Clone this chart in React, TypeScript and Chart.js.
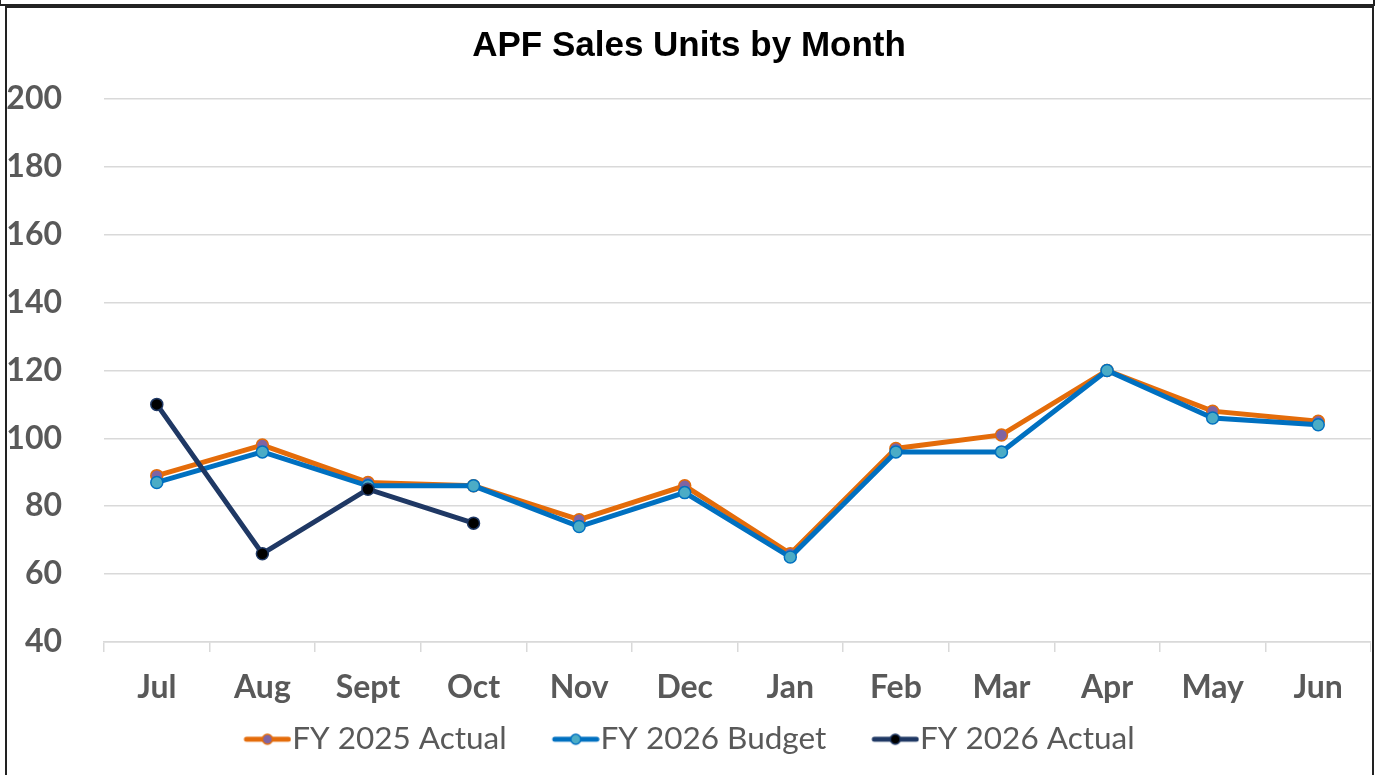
import React, { useEffect, useRef } from "react";
import { Chart, registerables } from "chart.js";

Chart.register(...registerables);

const months = ["Jul", "Aug", "Sept", "Oct", "Nov", "Dec", "Jan", "Feb", "Mar", "Apr", "May", "Jun"];
const fy2025Actual = [89, 98, 87, 86, 76, 86, 66, 97, 101, 120, 108, 105];
const fy2026Budget = [87, 96, 86, 86, 74, 84, 65, 96, 96, 120, 106, 104];
const fy2026Actual = [110, 66, 85, 75, null, null, null, null, null, null, null, null];
const seriesNames = ["FY 2025 Actual", "FY 2026 Budget", "FY 2026 Actual"];
const yMin = 40;
const yMax = 200;
const yStep = 20;

const lineColors = ["#E46C0A", "#0070C0", "#1F3864"];
const pointFills = ["#8064A2", "#4BACC6", "#000000"];
const pointBorders = ["#E46C0A", "#0070C0", "#1F3864"];

const BOX_W = 78;
const SAMPLE_PAD = BOX_W - 18;

function makeSample(line: string, fill: string, border: string) {
  const c = document.createElement("canvas");
  c.width = SAMPLE_PAD + 48;
  c.height = 14;
  const ctx = c.getContext("2d")!;
  ctx.strokeStyle = line;
  ctx.lineWidth = 5;
  ctx.lineCap = "round";
  ctx.beginPath();
  ctx.moveTo(SAMPLE_PAD + 3, 7);
  ctx.lineTo(SAMPLE_PAD + 45, 7);
  ctx.stroke();
  ctx.beginPath();
  ctx.arc(SAMPLE_PAD + 24, 7, 5, 0, Math.PI * 2);
  ctx.fillStyle = fill;
  ctx.fill();
  ctx.lineWidth = 1.5;
  ctx.strokeStyle = border;
  ctx.stroke();
  return c;
}

const legendShift = {
  id: "legendShift",
  afterLayout(chart: any) {
    const l = chart.legend;
    if (l) {
      const dx = -(BOX_W - 33) / 2;
      l.left += dx;
      l.right += dx;
    }
  },
};

export default function App() {
  const ref = useRef<HTMLCanvasElement | null>(null);
  useEffect(() => {
    document.body.style.margin = "0";
    const samples = [0, 1, 2].map((i) => makeSample(lineColors[i], pointFills[i], pointBorders[i]));
    const mk = (i: number, data: (number | null)[], order: number) => ({
      label: seriesNames[i],
      data,
      borderColor: lineColors[i],
      backgroundColor: pointFills[i],
      pointBackgroundColor: pointFills[i],
      pointBorderColor: pointBorders[i],
      pointBorderWidth: 1.5,
      pointRadius: 6,
      borderWidth: 5,
      tension: 0,
      order,
      spanGaps: false,
    });
    const chart = new Chart(ref.current!, {
      type: "line",
      data: {
        labels: months,
        datasets: [mk(0, fy2025Actual, 2), mk(1, fy2026Budget, 1), mk(2, fy2026Actual, 0)],
      },
      plugins: [legendShift],
      options: {
        animation: false,
        responsive: false,
        maintainAspectRatio: false,
        layout: { autoPadding: false, padding: { left: 0, right: 0, top: 0, bottom: 10 } },
        plugins: {
          title: {
            display: true,
            text: "APF Sales Units by Month",
            color: "#000000",
            font: { family: "'Liberation Sans', Arial, sans-serif", size: 35, weight: "bold" },
            padding: { top: 18, bottom: 32 },
          },
          legend: {
            display: true,
            position: "bottom",
            labels: {
              usePointStyle: true,
              pointStyleWidth: BOX_W,
              padding: 0,
              color: "#595959",
              font: { family: "Lato, 'Open Sans', sans-serif", size: 31.5 },
              generateLabels: (ch: any) =>
                ch.data.datasets.map((ds: any, i: number) => ({
                  text: ds.label,
                  fillStyle: pointFills[i],
                  strokeStyle: lineColors[i],
                  lineWidth: 0,
                  pointStyle: samples[i],
                  hidden: false,
                  datasetIndex: i,
                  fontColor: "#595959",
                })),
            },
          },
          tooltip: { enabled: false },
        },
        scales: {
          x: {
            offset: true,
            grid: {
              display: true,
              offset: true,
              drawOnChartArea: false,
              drawTicks: true,
              tickLength: 10,
              color: "#D9D9D9",
              lineWidth: 1.5,
            },
            border: { display: true, color: "#D9D9D9", width: 1.5 },
            ticks: {
              color: "#595959",
              padding: 19,
              font: { family: "Lato, 'Open Sans', sans-serif", size: 32, weight: "bold", lineHeight: 1.05 },
              maxRotation: 0,
              autoSkip: false,
            },
          },
          y: {
            min: yMin,
            max: yMax,
            grid: { color: "#D9D9D9", lineWidth: 1.5, drawTicks: false },
            border: { display: false },
            ticks: {
              stepSize: yStep,
              color: "#595959",
              padding: 42,
              font: { family: "Lato, 'Open Sans', sans-serif", size: 32, weight: "bold" },
            },
            afterFit: (s: any) => {
              s.width = 97;
            },
          },
        },
      },
    });
    return () => chart.destroy();
  }, []);

  return (
    <div style={{ position: "fixed", left: 0, top: 0, width: 1375, height: 775, background: "#fff", overflow: "hidden" }}>
      <div style={{ position: "absolute", left: -1, top: -20, width: 1376, height: 26, border: "2px solid #222", boxSizing: "border-box" }} />
      <div style={{ position: "absolute", left: 5, top: 6, width: 1369, height: 800, border: "2px solid #222", boxSizing: "border-box" }} />
      <canvas ref={ref} width={1364} height={768} style={{ position: "absolute", left: 7, top: 7, width: 1364, height: 768 }} />
    </div>
  );
}
